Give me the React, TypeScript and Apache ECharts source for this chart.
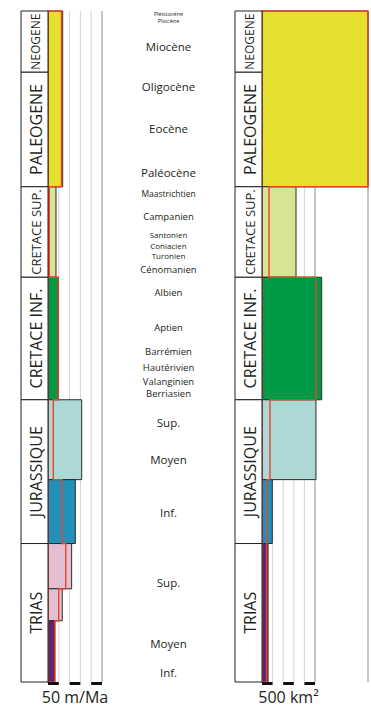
import React, { useEffect, useRef } from "react";
import * as echarts from "echarts";

// ---- Data ----
const periodNames = ["NEOGENE", "PALEOGENE", "CRETACE SUP.", "CRETACE INF.", "JURASSIQUE", "TRIAS"];
const periodTops = [0, 23, 66, 100, 146, 200];
const periodBases = [23, 66, 100, 146, 200, 252];

const stageNames = [
  "Pléistocène", "Pliocène", "Miocène", "Oligocène", "Eocène", "Paléocène",
  "Maastrichtien", "Campanien", "Santonien", "Coniacien", "Turonien", "Cénomanien",
  "Albien", "Aptien", "Barrémien", "Hautérivien", "Valanginien", "Berriasien",
  "Sup.", "Moyen", "Inf.", "Sup.", "Moyen", "Inf.",
];
const stageAges = [
  1.2, 3.8, 13.5, 28.2, 44.3, 60.5,
  68.4, 77, 84.1, 88.0, 91.9, 96.9,
  105.9, 119, 127.7, 133.7, 139, 143.5,
  154.4, 168.6, 188.2, 214.8, 237.4, 248.6,
];

// Sedimentation rate panel (m/Ma)
const rateTops = [0, 66, 100, 146, 176, 200, 217, 229];
const rateBases = [66, 100, 146, 176, 200, 217, 229, 252];
const rateFill = [13.6, 7.4, 9.5, 31.2, 25.3, 21.9, 13.2, 6];
const rateRed = [12.5, 1.2, 9.3, 4.9, 13, 16.4, 9.9, 6.5];
const rateUnits = ["paleo", "cretSup", "cretInf", "jurSup", "jurInf", "trias", "trias", "triasInf"];
const rateGrid = [10, 20, 30, 40, 50];
const rateMajor = [50];
const rateScale = [[0, 10], [20, 30], [40, 50]];
const rateLabel = "50 m/Ma";

// Area panel (km²)
const areaTops = [0, 66, 100, 146, 176, 200];
const areaBases = [66, 100, 146, 176, 200, 252];
const areaFill = [1000, 321, 563, 509, 97, 57];
const areaRed = [1000, 66, 509, 75, 47, 44];
const areaUnits = ["paleo", "cretSup", "cretInf", "jurSup", "jurInf", "triasInf"];
const areaGrid = [100, 200, 300, 400, 500, 1000];
const areaMajor = [500, 1000];
const areaScale = [[0, 100], [200, 300], [400, 500]];
const areaLabel = "500 km²";

// ---- Styles ----
const UNIT_COLORS: Record<string, string> = {
  paleo: "#e3e12e",
  cretSup: "#d6e494",
  cretInf: "#009a47",
  jurSup: "#acd8d6",
  jurInf: "#2291b9",
  trias: "#e4bfd1",
  triasInf: "#5e2672",
};
const PERIOD_FONT = [12, 16, 13, 16, 16, 16];
const STAGE_FONT = [
  5.5, 5.5, 11.5, 11.5, 11.5, 11.5,
  8.5, 9.5, 8, 8, 8, 9.5,
  9.5, 9.5, 9.5, 9.5, 9.5, 9.5,
  11.5, 11.5, 11.5, 11.5, 11.5, 11.5,
];
const FONT = "'Open Sans', 'Noto Sans', sans-serif";
const INK = "#231f20";
const RED = "#e8432f";

const AGE_MAX = 252;

function ageAxis(gridIndex: number) {
  return { type: "value", gridIndex, min: 0, max: AGE_MAX, inverse: true, show: false };
}

export default function App() {
  const ref = useRef<HTMLDivElement>(null);

  useEffect(() => {
    document.body.style.margin = "0";
    const chart = echarts.init(ref.current!, undefined, { renderer: "svg" });

    const top = 11;
    const height = 671;

    const periodSeries = (gridIndex: number) => ({
      type: "custom",
      xAxisIndex: gridIndex,
      yAxisIndex: gridIndex,
      z: 4,
      data: periodNames.map((n, i) => [i, periodTops[i], periodBases[i]]),
      renderItem: (params: any, api: any) => {
        const i = api.value(0);
        const p0 = api.coord([0, api.value(1)]);
        const p1 = api.coord([1, api.value(2)]);
        return {
          type: "group",
          children: [
            {
              type: "rect",
              shape: { x: p0[0], y: p0[1], width: p1[0] - p0[0], height: p1[1] - p0[1] },
              style: { fill: "#ffffff", stroke: INK, lineWidth: 1 },
            },
            {
              type: "text",
              x: (p0[0] + p1[0]) / 2 + 1,
              y: (p0[1] + p1[1]) / 2,
              rotation: Math.PI / 2,
              style: {
                text: periodNames[i],
                fill: INK,
                fontSize: PERIOD_FONT[i],
                fontFamily: FONT,
                align: "center",
                verticalAlign: "middle",
              },
            },
          ],
        };
      },
    });

    const gridLineSeries = (gridIndex: number, values: number[], major: number[]) => ({
      type: "custom",
      xAxisIndex: gridIndex,
      yAxisIndex: gridIndex,
      z: 1,
      data: values.map((v) => [v]),
      renderItem: (params: any, api: any) => {
        const v = api.value(0);
        const a = api.coord([v, 0]);
        const b = api.coord([v, AGE_MAX]);
        const isMajor = major.indexOf(v) >= 0;
        return {
          type: "line",
          shape: { x1: a[0], y1: a[1], x2: b[0], y2: b[1] },
          style: { stroke: isMajor ? "#8c8c8c" : "#d4d4d4", lineWidth: 1 },
        };
      },
    });

    const barSeries = (gridIndex: number, tops: number[], bases: number[], vals: number[], units: string[]) => ({
      type: "custom",
      xAxisIndex: gridIndex,
      yAxisIndex: gridIndex,
      z: 2,
      data: vals.map((v, i) => [tops[i], bases[i], v, i]),
      renderItem: (params: any, api: any) => {
        const p0 = api.coord([0, api.value(0)]);
        const p1 = api.coord([api.value(2), api.value(1)]);
        const i = api.value(3);
        return {
          type: "rect",
          shape: { x: p0[0], y: p0[1], width: p1[0] - p0[0], height: p1[1] - p0[1] },
          style: { fill: UNIT_COLORS[units[i]], stroke: "#2a2a2a", lineWidth: 1 },
        };
      },
    });

    const redSeries = (gridIndex: number, tops: number[], bases: number[], vals: number[]) => ({
      type: "custom",
      xAxisIndex: gridIndex,
      yAxisIndex: gridIndex,
      z: 3,
      data: [[0]],
      renderItem: (params: any, api: any) => {
        const pts: number[][] = [];
        pts.push(api.coord([0, tops[0]]));
        vals.forEach((v, i) => {
          pts.push(api.coord([v, tops[i]]));
          pts.push(api.coord([v, bases[i]]));
        });
        pts.push(api.coord([0, bases[bases.length - 1]]));
        return {
          type: "polygon",
          shape: { points: pts },
          style: { fill: "none", stroke: RED, lineWidth: 1.4 },
        };
      },
    });

    const scaleSeries = (gridIndex: number, segs: number[][], label: string) => ({
      type: "custom",
      xAxisIndex: gridIndex,
      yAxisIndex: gridIndex,
      z: 5,
      data: segs.map((s, i) => [s[0], s[1], i]),
      renderItem: (params: any, api: any) => {
        const a = api.coord([api.value(0), AGE_MAX]);
        const b = api.coord([api.value(1), AGE_MAX]);
        const children: any[] = [
          {
            type: "rect",
            shape: { x: a[0], y: a[1], width: b[0] - a[0], height: 3 },
            style: { fill: "#111111" },
          },
        ];
        if (api.value(2) === 0) {
          const s0 = api.coord([segs[0][0], AGE_MAX]);
          const s1 = api.coord([segs[segs.length - 1][1], AGE_MAX]);
          children.push({
            type: "text",
            x: (s0[0] + s1[0]) / 2,
            y: s0[1] + 15,
            style: {
              text: label,
              fill: INK,
              fontSize: 16,
              fontFamily: FONT,
              align: "center",
              verticalAlign: "middle",
            },
          });
        }
        return { type: "group", children };
      },
    });

    const stageSeries = {
      type: "custom",
      xAxisIndex: 2,
      yAxisIndex: 2,
      z: 4,
      data: stageNames.map((n, i) => [0.5, stageAges[i], i]),
      renderItem: (params: any, api: any) => {
        const p = api.coord([api.value(0), api.value(1)]);
        const i = api.value(2);
        return {
          type: "text",
          x: p[0],
          y: p[1],
          style: {
            text: stageNames[i],
            fill: INK,
            fontSize: STAGE_FONT[i],
            fontFamily: FONT,
            align: "center",
            verticalAlign: "middle",
          },
        };
      },
    };

    const option: any = {
      animation: false,
      backgroundColor: "#ffffff",
      grid: [
        { left: 21, width: 27, top, height },
        { left: 48, width: 54, top, height },
        { left: 102, width: 133, top, height },
        { left: 235, width: 27, top, height },
        { left: 262, width: 106, top, height },
      ],
      xAxis: [
        { type: "value", gridIndex: 0, min: 0, max: 1, show: false },
        { type: "value", gridIndex: 1, min: 0, max: 50, show: false },
        { type: "value", gridIndex: 2, min: 0, max: 1, show: false },
        { type: "value", gridIndex: 3, min: 0, max: 1, show: false },
        { type: "value", gridIndex: 4, min: 0, max: 1000, show: false },
      ],
      yAxis: [ageAxis(0), ageAxis(1), ageAxis(2), ageAxis(3), ageAxis(4)],
      series: [
        periodSeries(0),
        gridLineSeries(1, rateGrid, rateMajor),
        barSeries(1, rateTops, rateBases, rateFill, rateUnits),
        redSeries(1, rateTops, rateBases, rateRed),
        scaleSeries(1, rateScale, rateLabel),
        stageSeries,
        periodSeries(3),
        gridLineSeries(4, areaGrid, areaMajor),
        barSeries(4, areaTops, areaBases, areaFill, areaUnits),
        redSeries(4, areaTops, areaBases, areaRed),
        scaleSeries(4, areaScale, areaLabel),
      ],
    };
    chart.setOption(option);
    return () => chart.dispose();
  }, []);

  return <div ref={ref} style={{ width: 371, height: 712 }} />;
}
